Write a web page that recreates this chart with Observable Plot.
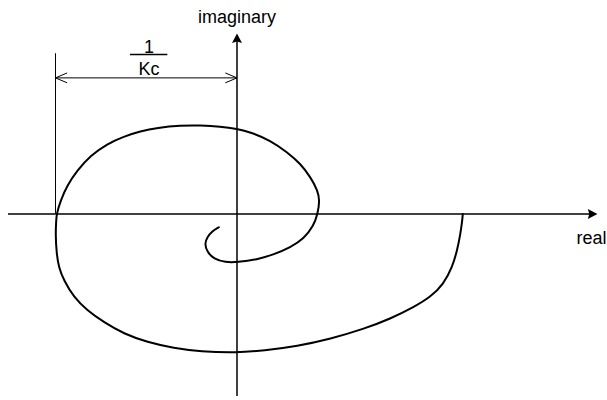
<!DOCTYPE html>
<html>
<head>
<meta charset="utf-8">
<script src="https://cdn.jsdelivr.net/npm/d3@7"></script>
<script src="https://cdn.jsdelivr.net/npm/@observablehq/plot@0.6"></script>
<style>
  html, body { margin: 0; padding: 0; background: #fff; }
  #chart svg { display: block; }
</style>
</head>
<body>
<div id="chart"></div>
<script>
// Nyquist locus of the open-loop response, in units of 1/Kc
// (the distance from the origin to where the locus meets the negative real axis).
const locusRe = [
  1.244, 1.241, 1.231, 1.213, 1.186, 1.139, 1.066, 0.974, 0.846, 0.699,
  0.515, 0.332, 0.148, -0.003, -0.201, -0.348, -0.495, -0.624, -0.734, -0.825,
  -0.899, -0.954, -0.982, -0.994, -1.000, -0.996, -0.994, -0.972, -0.936, -0.880,
  -0.807, -0.715, -0.624, -0.532, -0.440, -0.311, -0.201, -0.091, 0.001, 0.074,
  0.185, 0.277, 0.350, 0.405, 0.445, 0.456, 0.444, 0.423, 0.368, 0.295,
  0.203, 0.111, 0.001, -0.063, -0.128, -0.164, -0.179, -0.164, -0.137, -0.100
];
const locusIm = [
  0.000, -0.036, -0.109, -0.201, -0.293, -0.385, -0.458, -0.513, -0.577, -0.633,
  -0.688, -0.728, -0.752, -0.765, -0.758, -0.739, -0.706, -0.660, -0.596, -0.532,
  -0.458, -0.366, -0.293, -0.219, -0.109, -0.036, 0.000, 0.074, 0.157, 0.240,
  0.322, 0.387, 0.427, 0.456, 0.475, 0.488, 0.488, 0.482, 0.469, 0.451,
  0.405, 0.340, 0.277, 0.203, 0.129, 0.074, 0.000, -0.063, -0.137, -0.183,
  -0.223, -0.251, -0.266, -0.267, -0.247, -0.210, -0.164, -0.128, -0.095, -0.073
];

// Where the locus crosses the negative real axis: -1/Kc
const criticalRe = [-1];

// Axis extents (real and imaginary)
const realAxis = [-1.259, 1.986];
const imagAxis = [-1.006, 0.995];

// Text
const axisNames = { imag: "imaginary", real: "real" };
const gainLabel = { num: "1", den: "Kc" };

const locus = locusRe.map((re, i) => ({ re, im: locusIm[i] }));

// Filled arrowhead, tip at the origin, pointing up
const arrowHead = {
  draw(ctx) {
    ctx.moveTo(0, 0);
    ctx.lineTo(5, 9.6);
    ctx.lineTo(0, 8.2);
    ctx.lineTo(-5, 9.6);
    ctx.closePath();
  }
};

const font = "'Liberation Sans', Arial, Helvetica, sans-serif";
const dimY = 0.75;        // height of the 1/Kc dimension line
const dimTop = 0.883;     // top of the extension line at -1/Kc
const fracX = -0.485;     // centre of the 1/Kc fraction

const chart = Plot.plot({
  width: 607,
  height: 400,
  margin: 0,
  style: { fontFamily: font, background: "#fff", color: "#000" },
  x: { domain: [-1.3030, 2.0413], axis: null },
  y: { domain: [-1.02755, 1.17631], axis: null },
  marks: [
    // real axis
    Plot.ruleY([0], { x1: realAxis[0], x2: realAxis[1] - 0.03, stroke: "#000", strokeWidth: 1.5 }),
    Plot.dot([0], { x: realAxis[1], y: 0, symbol: arrowHead, rotate: 90, fill: "#000", stroke: null }),
    // imaginary axis
    Plot.ruleX([0], { y1: imagAxis[0], y2: imagAxis[1] - 0.03, stroke: "#000", strokeWidth: 1.5 }),
    Plot.dot([0], { x: 0, y: imagAxis[1], symbol: arrowHead, fill: "#000", stroke: null }),

    // extension line at -1/Kc
    Plot.ruleX(criticalRe, { y1: 0, y2: dimTop, stroke: "#000", strokeWidth: 1 }),
    // double-headed dimension arrow from -1/Kc to the origin
    Plot.arrow(criticalRe, {
      x1: d => d / 2, x2: d => d, y1: dimY, y2: dimY,
      stroke: "#000", strokeWidth: 1, headLength: 19, headAngle: 46, strokeLinecap: "butt"
    }),
    Plot.arrow(criticalRe, {
      x1: d => d / 2, x2: 0, y1: dimY, y2: dimY,
      stroke: "#000", strokeWidth: 1, headLength: 19, headAngle: 46, strokeLinecap: "butt"
    }),

    // 1/Kc fraction
    Plot.text([gainLabel.num], { x: fracX, y: 0.918, text: d => d, fontSize: 18, fill: "#000" }),
    Plot.ruleY([0.879], { x1: -0.587, x2: -0.381, stroke: "#000", strokeWidth: 1.5 }),
    Plot.text([gainLabel.den], { x: fracX, y: 0.795, text: d => d, fontSize: 18, fill: "#000" }),

    // axis names
    Plot.text([axisNames.imag], { x: 0, y: 1.085, text: d => d, fontSize: 18, fill: "#000" }),
    Plot.text([axisNames.real], { x: 1.871, y: -0.132, text: d => d, fontSize: 18, textAnchor: "start", fill: "#000" }),

    // the locus
    Plot.line(locus, { x: "re", y: "im", curve: "basis", stroke: "#000", strokeWidth: 2 })
  ]
});

document.getElementById("chart").append(chart);
</script>
</body>
</html>
